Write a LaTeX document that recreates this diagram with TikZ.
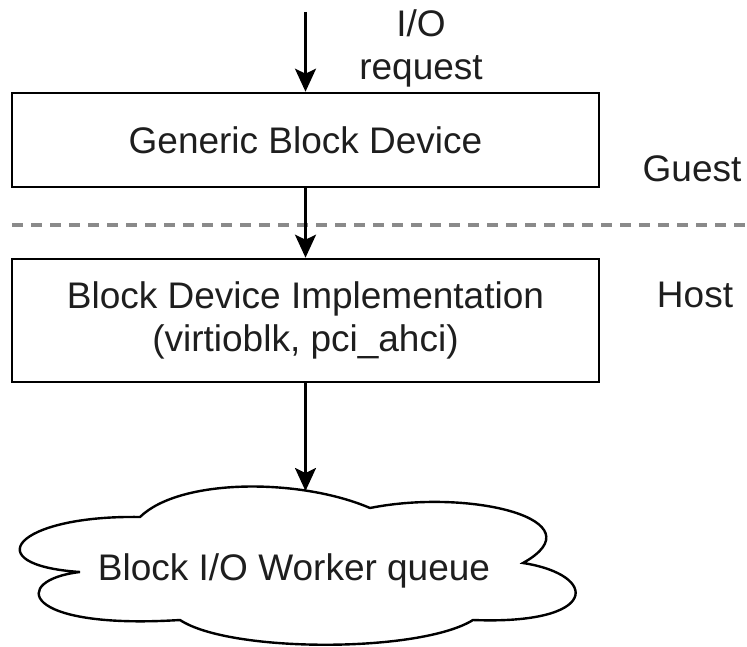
\documentclass[tikz,border=0pt]{standalone}
\usepackage{fontspec}
\setmainfont{Liberation Sans}
\usetikzlibrary{arrows.meta}
\definecolor{txt}{HTML}{1E1E1E}
\definecolor{sep}{HTML}{8A8A8A}
\begin{document}
\begin{tikzpicture}[x=1pt,y=-1pt,
  every node/.style={font=\fontsize{37}{43}\selectfont, text=txt},
  blockbox/.style={draw=black, line width=2.6pt, rectangle, minimum width=587pt, align=center, inner sep=0pt},
  flow/.style={line width=2.6pt, -{Stealth[length=23pt,width=21pt,inset=5pt]}},
  label/.style={inner sep=0pt, anchor=base}]
\useasboundingbox (0,0) rectangle (747,647);

% separator
\draw[sep, line width=3.2pt, dash pattern=on 11pt off 8pt] (12,225) -- (747,225);

% boxes
\node[blockbox, minimum height=94pt] (b1) at (305.5,140) {Generic Block Device};
\node[blockbox, minimum height=123pt] (b2) at (305.5,320.5) {Block Device Implementation\\(virtioblk, pci\_ahci)};

% labels
\node[label, align=center] (req) at (421,80) {I/O\\request};
\node[label] (guest) at (692,182) {Guest};
\node[label] (host) at (695,307) {Host};

% cloud
\draw[line width=2.4pt, fill=white]
  (140,517) .. controls (180,478) and (300,478) .. (370,508)
  .. controls (470,488) and (600,520) .. (523,563)
  .. controls (600,575) and (600,625) .. (473,620)
  .. controls (420,653) and (230,653) .. (180,620)
  .. controls (20,630) and (10,580) .. (80,572)
  .. controls (-25,565) and (15,515) .. (140,517) -- cycle;
\node[label] (cloud) at (294,580) {Block I/O Worker queue};

\coordinate (src) at (305.5,12);
\coordinate (cloudtop) at (305.5,491);

\draw[flow] (src) -- (b1.north);
\draw[flow] (b1.south) -- (b2.north);
\draw[flow] (b2.south) -- (cloudtop);
\end{tikzpicture}
\end{document}
